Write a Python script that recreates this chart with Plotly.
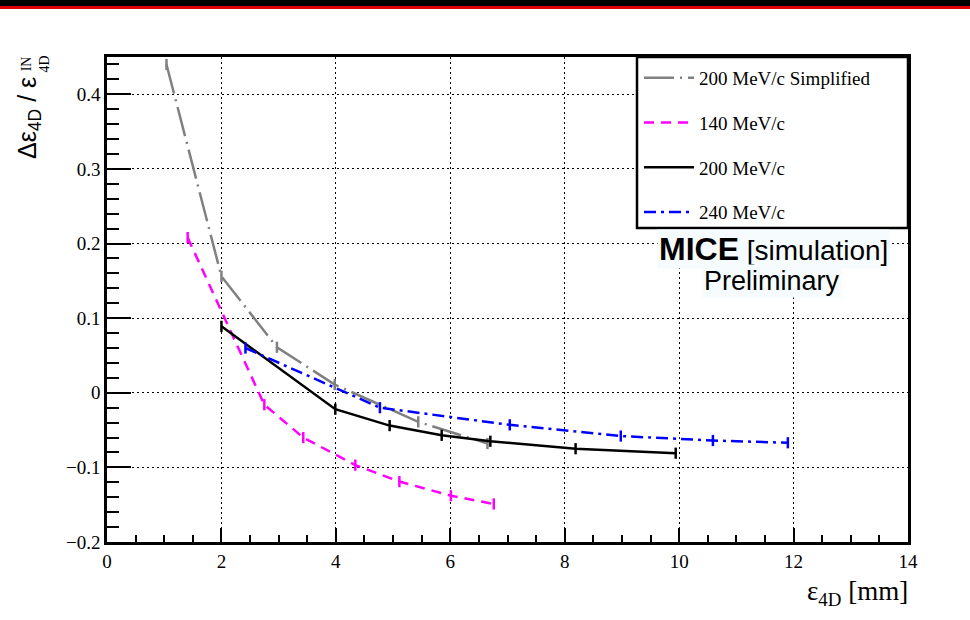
import plotly.graph_objects as go

# ---- data ----
simp_x = [1.04, 2.00, 2.97, 3.98, 5.44, 6.65]
simp_y = [0.440, 0.156, 0.061, 0.011, -0.039, -0.068]

p140_x = [1.41, 2.75, 3.43, 4.34, 5.11, 6.01, 6.76]
p140_y = [0.208, -0.016, -0.060, -0.097, -0.119, -0.138, -0.149]

p200_x = [2.00, 3.99, 4.94, 5.85, 6.70, 8.19, 9.94]
p200_y = [0.089, -0.022, -0.044, -0.057, -0.065, -0.075, -0.081]

p240_x = [2.42, 4.77, 7.04, 8.98, 10.59, 11.90]
p240_y = [0.060, -0.020, -0.043, -0.058, -0.064, -0.067]

names = ["200 MeV/c Simplified", "140 MeV/c", "200 MeV/c", "240 MeV/c"]
colors = ["#808080", "#ff00ff", "#000000", "#0000ff"]
dashes = ["30px,6px,2px,6px", "10px,7px", "solid", "12px,5px,3px,5px"]

W, H = 970, 620
L, R, T, B = 107, 908, 57, 542


def px(x):
    return (x - L) / (R - L)


def py(y):
    return (B - y) / (B - T)


fig = go.Figure()
series = [(simp_x, simp_y), (p140_x, p140_y), (p200_x, p200_y), (p240_x, p240_y)]
for i, ((xs, ys), n, c, d) in enumerate(zip(series, names, colors, dashes)):
    fig.add_trace(go.Scatter(
        x=xs, y=ys, name=n, mode="lines",
        line=dict(color=c, width=2.5, dash=d),
        legendgroup=f"g{i}",
    ))
    fig.add_trace(go.Scatter(
        x=xs, y=ys, name=n, mode="markers", showlegend=False,
        marker=dict(symbol="line-ns-open", size=8, color=c, line=dict(color=c, width=2.5)),
        legendgroup=f"g{i}", hoverinfo="skip",
    ))

serif = "Liberation Serif"
axis_common = dict(
    showline=True, linecolor="black", linewidth=2.5, mirror=True,
    ticks="inside", tickcolor="black", tickwidth=2,
    showgrid=True, gridcolor="black", griddash="2px,3px", gridwidth=1,
    zeroline=False,
    tickfont=dict(family=serif, size=19, color="black"),
)

fig.update_xaxes(range=[0, 14], dtick=2, tick0=0, ticklen=14,
                 minor=dict(dtick=0.5, ticklen=7, tickcolor="black", tickwidth=2, ticks="inside", showgrid=False),
                 **axis_common)
fig.update_yaxes(range=[-0.2, 0.45], dtick=0.1, tick0=0, ticklen=24,
                 minor=dict(dtick=0.02, ticklen=12, tickcolor="black", tickwidth=2, ticks="inside", showgrid=False),
                 **axis_common)

annotations = [
    dict(text="ε<sub>4D</sub> [mm]", x=px(910), y=py(574), xanchor="right", yanchor="top",
         font=dict(family=serif, size=27, color="black")),
    dict(text="Δε<sub>4D</sub> / ε", textangle=-90, x=px(29), y=py(75), xanchor="center", yanchor="top",
         font=dict(family="Liberation Sans", size=25, color="black")),
    dict(text="IN<br>4D", textangle=-90, x=px(35), y=py(54), xanchor="center", yanchor="top",
         font=dict(family=serif, size=14, color="black")),
    dict(text="<b><span style='font-size:32px'>MICE</span></b> [simulation]", x=px(773), y=py(249),
         xanchor="center", yanchor="middle",
         font=dict(family="Liberation Sans", size=28, color="black"), bgcolor="#f6fcfd"),
    dict(text="Preliminary", x=px(772), y=py(281), xanchor="center", yanchor="middle",
         font=dict(family="Liberation Sans", size=27, color="black"), bgcolor="#f6fcfd"),
]
for a in annotations:
    a.update(xref="paper", yref="paper", showarrow=False)

shapes = [
    # legend frame
    dict(type="rect", xref="paper", yref="paper", x0=px(637), x1=px(908), y0=py(228), y1=py(57),
         fillcolor="white", line=dict(color="black", width=2.5), layer="above"),
    # top banner
    dict(type="rect", xref="paper", yref="paper", x0=px(0), x1=px(W), y0=py(6), y1=py(0),
         fillcolor="black", line=dict(width=0), layer="above"),
    dict(type="rect", xref="paper", yref="paper", x0=px(0), x1=px(W), y0=py(9), y1=py(6),
         fillcolor="#e00000", line=dict(width=0), layer="above"),
]

fig.update_layout(
    width=W, height=H,
    margin=dict(l=L, r=W - R, t=T, b=H - B, autoexpand=False),
    paper_bgcolor="white", plot_bgcolor="white",
    showlegend=True,
    legend=dict(x=px(639), y=py(59), xanchor="left", yanchor="top",
                bgcolor="rgba(0,0,0,0)", borderwidth=0,
                font=dict(family=serif, size=19, color="black"),
                tracegroupgap=17, traceorder="grouped", itemwidth=50),
    annotations=annotations,
    shapes=shapes,
)

fig.write_html("out.html", config={"displayModeBar": False},
               post_script="document.body.style.margin='0px';document.body.style.overflow='hidden';")
